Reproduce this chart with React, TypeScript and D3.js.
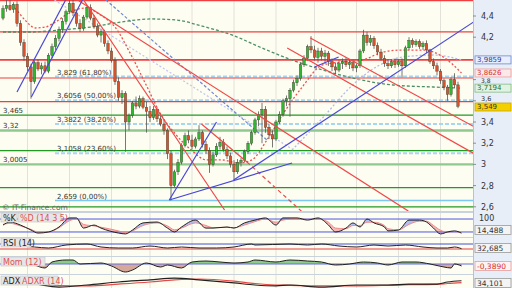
import React from "react";
import * as d3 from "d3";

const W = 512;
const H = 288;
const PR = 473;

// OHLC candles [open, high, low, close]
const candles: [number, number, number, number][] = [
  [4.38,4.50,4.36,4.47],[4.47,4.55,4.44,4.50],[4.50,4.55,4.45,4.46],[4.46,4.53,4.43,4.51],[4.51,4.54,4.30,4.33],
  [4.33,4.36,4.12,4.15],[4.15,4.18,3.98,4.02],[4.02,4.05,3.88,3.92],[3.92,3.95,3.62,3.78],[3.78,3.98,3.76,3.96],
  [3.96,3.99,3.88,3.90],[3.90,3.96,3.85,3.93],[3.93,3.97,3.86,3.88],[3.88,4.05,3.86,4.03],[4.03,4.14,4.00,4.11],
  [4.11,4.22,4.08,4.19],[4.19,4.30,4.16,4.27],[4.27,4.38,4.24,4.35],[4.35,4.46,4.32,4.44],[4.44,4.55,4.42,4.52],
  [4.52,4.55,4.40,4.43],[4.43,4.46,4.30,4.33],[4.33,4.37,4.25,4.28],[4.28,4.41,4.26,4.39],[4.39,4.50,4.37,4.48],
  [4.48,4.51,4.36,4.38],[4.38,4.41,4.28,4.30],[4.30,4.33,4.20,4.22],[4.22,4.28,4.15,4.25],[4.25,4.27,4.11,4.14],
  [4.14,4.17,4.04,4.07],[4.07,4.10,3.96,3.98],[3.98,4.01,3.75,3.78],[3.78,3.82,3.60,3.63],[3.63,3.70,3.57,3.67],
  [3.67,3.69,3.12,3.40],[3.40,3.48,3.32,3.46],[3.46,3.60,3.44,3.58],[3.58,3.64,3.52,3.55],[3.55,3.65,3.53,3.62],
  [3.62,3.64,3.52,3.54],[3.54,3.59,3.30,3.50],[3.50,3.55,3.40,3.44],[3.44,3.55,3.42,3.52],[3.52,3.54,3.40,3.43],
  [3.43,3.46,3.36,3.38],[3.38,3.42,3.28,3.32],[3.32,3.34,3.05,3.10],[3.10,3.13,2.66,2.80],[2.80,2.95,2.78,2.93],
  [2.93,3.05,2.90,3.02],[3.02,3.20,3.00,3.18],[3.18,3.30,3.16,3.27],[3.27,3.32,3.20,3.23],[3.23,3.28,3.14,3.17],
  [3.17,3.26,3.15,3.24],[3.24,3.37,3.22,3.30],[3.30,3.32,3.16,3.19],[3.19,3.22,3.10,3.13],[3.13,3.16,2.92,3.00],
  [3.00,3.12,2.98,3.09],[3.09,3.20,3.07,3.17],[3.17,3.26,3.14,3.21],[3.21,3.24,3.12,3.14],[3.14,3.17,3.05,3.08],
  [3.08,3.11,2.97,3.00],[3.00,3.04,2.85,2.93],[2.93,3.05,2.91,3.02],[3.02,3.06,2.98,3.04],[3.04,3.14,3.02,3.12],
  [3.12,3.22,3.10,3.20],[3.20,3.32,3.18,3.30],[3.30,3.44,3.28,3.42],[3.42,3.50,3.36,3.47],[3.47,3.58,3.20,3.52],
  [3.52,3.55,3.30,3.35],[3.35,3.38,3.24,3.28],[3.28,3.32,3.16,3.24],[3.24,3.42,3.22,3.40],[3.40,3.50,3.38,3.47],
  [3.47,3.62,3.45,3.60],[3.60,3.65,3.55,3.62],[3.62,3.72,3.45,3.70],[3.70,3.80,3.68,3.77],[3.77,3.84,3.74,3.81],
  [3.81,3.96,3.79,3.94],[3.94,4.03,3.92,4.00],[4.00,4.13,3.98,4.11],[4.11,4.21,4.05,4.08],[4.08,4.12,3.98,4.01],
  [4.01,4.10,3.96,4.07],[4.07,4.10,3.98,4.02],[4.02,4.08,3.95,4.05],[4.05,4.07,3.93,3.97],[3.97,4.00,3.88,3.92],
  [3.92,3.96,3.85,3.89],[3.89,3.98,3.87,3.95],[3.95,4.00,3.90,3.97],[3.97,4.01,3.92,3.94],[3.94,3.99,3.90,3.96],
  [3.96,3.98,3.88,3.91],[3.91,3.95,3.87,3.93],[3.93,4.09,3.91,4.07],[4.07,4.27,4.05,4.22],[4.22,4.25,4.12,4.15],
  [4.15,4.22,4.12,4.19],[4.19,4.21,4.09,4.12],[4.12,4.15,4.03,4.06],[4.06,4.09,3.98,4.00],[4.00,4.03,3.92,3.95],
  [3.95,3.99,3.90,3.93],[3.93,3.99,3.91,3.97],[3.97,4.00,3.91,3.94],[3.94,3.99,3.92,3.97],[3.97,4.00,3.82,3.93],
  [3.93,4.12,3.91,4.10],[4.10,4.20,4.08,4.17],[4.17,4.19,4.10,4.13],[4.13,4.18,4.11,4.16],[4.16,4.18,4.09,4.11],
  [4.11,4.16,4.08,4.14],[4.14,4.17,4.05,4.08],[4.08,4.09,3.95,3.97],[3.97,4.00,3.90,3.93],[3.93,3.96,3.84,3.88],
  [3.88,3.90,3.76,3.79],[3.79,3.81,3.70,3.73],[3.73,3.75,3.60,3.66],[3.66,3.82,3.64,3.80],[3.80,3.86,3.72,3.75],
  [3.75,3.78,3.53,3.549],
];

// visible price-axis ticks (the "4" tick is hidden behind the 3,9859 marker in the reference)
const priceTicks = [4.4, 4.2, 3.8, 3.6, 3.4, 3.2, 3.0, 2.8, 2.6];
const priceTickLabels = ["4,4", "4,2", "3,8", "3,6", "3,4", "3,2", "3", "2,8", "2,6"];
const gridIdx = [7, 19, 31, 42, 54, 66, 78, 89, 101, 113, 125];

const redLevels = [4.545, 4.25, 3.9859, 3.815, 3.592];
const greenLevels = [3.465, 3.13, 2.78, 2.6];
const greenThickLevels = [3.32, 3.0005];
const fiboLevels = [3.829, 3.6056, 3.3822, 3.1058];
const fiboLabels = ["3,829 (61,80%)", "3,6056 (50,00%)", "3,3822 (38,20%)", "3,1058 (23,60%)"];
const fiboBase = 2.659;
const fiboBaseLabel = "2,659 (0,00%)";
const leftLevels = [3.465, 3.32, 3.0005];
const leftLevelLabels = ["3,465", "3,32", "3,0005"];

// trendlines [idx0, p0, idx1, p1]
const blueLines: number[][] = [
  [4.0, 3.683, 17.9, 4.551],
  [8.1, 3.636, 22.7, 4.551],
  [47.5, 2.664, 61.0, 3.4],
  [47.5, 2.664, 82.6, 3.013],
  [65.9, 2.853, 135.3, 4.362],
  [89.0, 3.919, 95.9, 4.013],
];
const redLines: number[][] = [
  [23.0, 4.551, 63.3, 2.57],
  [21.3, 4.551, 115.8, 2.56],
  [87.8, 4.192, 135.3, 3.343],
  [81.2, 4.098, 135.3, 3.089],
  [56.7, 3.381, 69.7, 3.023],
];
const redDashedLines: number[][] = [[69.7, 3.023, 85.5, 2.551]];
const blueDashedLines: number[][] = [[29.4, 4.551, 75.4, 3.23]];
const lavenderLines: number[][] = [[14.7, 4.551, 82.6, 3.145]];

// moving averages [idx, price]
const maGreen: [number, number][] = [
  [0, 4.249], [7.8, 4.249], [16.4, 4.268], [25.1, 4.296], [33.7, 4.343], [42.3, 4.372], [49.5, 4.362],
  [56.7, 4.306], [65.4, 4.221], [74, 4.098], [82.6, 3.985], [91.3, 3.891], [99.9, 3.815], [111.4, 3.749],
  [122.9, 3.73], [131, 3.7194],
];
const maRed: [number, number][] = [
  [3.5, 4.475], [6.3, 4.362], [9.2, 4.287], [12.1, 4.296], [15, 4.343], [19.3, 4.438], [23.6, 4.475],
  [27.9, 4.409], [32.2, 4.287], [36.6, 4.032], [40.9, 3.749], [45.2, 3.466], [49.5, 3.277], [53.8, 3.136],
  [58.2, 3.042], [62.5, 3.042], [67.4, 3.013], [71.1, 3.042], [75.4, 3.23], [79.8, 3.466], [85.5, 3.73],
  [91.3, 3.938], [97, 3.966], [102.8, 3.985], [108.5, 4.06], [114.3, 4.079], [120.1, 4.079], [125.8, 4.013],
  [131, 3.8626],
];
const maBlue: [number, number][] = [
  [82.6, 3.136], [91.3, 3.438], [99.9, 3.749], [107.1, 3.928], [114.3, 4.013], [122.9, 4.032], [131, 3.9859],
];

// Stochastic
const stochIdx = [0,2,5,8,10,13,16,19,21,23,26,28,33,35,37,40,44,47,49,51,55,58,60,64,66,69,72,75,78,80,84,87,90,93,95,98,100,102,104,106,109,110,113,116,119,121,123,125,127,129,131];
const stochK = [52,66,52,29,15,20,43,85,85,38,52,38,15,11,29,62,66,38,20,43,75,38,38,43,38,62,75,85,52,85,85,75,85,52,20,38,62,43,80,62,43,25,29,75,75,66,38,11,20,25,14.5];
const stochD = [55,60,48,32,20,20,40,72,80,55,48,42,25,16,25,50,62,48,30,38,62,50,40,42,40,52,68,80,65,75,82,78,80,65,38,35,50,50,65,65,50,35,30,55,70,70,50,28,20,22,18];

// RSI
const rsiIdx = [0,9,13,18,24,28,33,37,42,47,51,56,61,66,71,72,82,87,91,96,101,106,110,115,120,124,127,129,131];
const rsiVals = [62,46,38,62,70,46,38,38,54,38,46,38,38,46,70,62,70,62,70,54,46,62,54,62,46,38,38,46,32.7];

// Momentum
const momIdx = [0,5,9,12,14,18,20,22,28,31,35,37,41,45,47,51,54,58,62,66,70,72,78,82,87,91,95,99,103,107,110,114,118,122,126,128,129,131];
const momVals = [1.2,0.8,-0.2,-0.8,0.4,0.8,0.8,0,0.2,-0.4,-1.6,-1.2,0.2,-0.6,-0.2,-0.8,0.4,0.6,0.4,0.2,0.4,0.8,0.4,0.8,0.6,0.4,-0.2,0,0.4,0.2,-0.2,0.4,0.4,0,-0.6,-0.8,0,-0.39];

// ADX
const adxIdx = [0,8,16,24,33,42,49,56,66,72,78,82,91,101,110,116,124,127,131];
const adxVals = [30,25,13,20,30,37,43,37,27,20,17,20,13,20,20,23,23,30,34.1];
const adxrVals = [30,27,18,17,23,30,37,40,33,25,20,19,17,17,19,21,22,25,28];

const FONT = "DejaVu Sans, Verdana, sans-serif";

export default function App() {
  const n = candles.length;
  const x = d3.scaleLinear().domain([0, n - 1]).range([3, 458]);
  const y = d3.scaleLinear().domain([2.6, 4.4]).range([206.8, 16]);
  const bw = 2.4;

  const curve = d3.line<[number, number]>().x((d) => x(d[0])).y((d) => y(d[1])).curve(d3.curveMonotoneX);

  const seg = (l: number[], i: number, color: string, w: number, dash?: string) => (
    <line key={i} x1={x(l[0])} y1={y(l[1])} x2={x(l[2])} y2={y(l[3])}
      stroke={color} strokeWidth={w} strokeDasharray={dash} />
  );

  const yS = d3.scaleLinear().domain([0, 100]).range([236.3, 214.7]);
  const yR = d3.scaleLinear().domain([0, 100]).range([252.75, 240.25]);
  const yM = d3.scaleLinear().domain([-2, 2]).range([274, 254]);
  const yA = d3.scaleLinear().domain([10, 50]).range([288, 276]);

  const kPts = stochIdx.map((d, i) => [d, stochK[i]] as [number, number]);
  const dPts = stochIdx.map((d, i) => [d, stochD[i]] as [number, number]);
  const lS = d3.line<[number, number]>().x((d) => x(d[0])).y((d) => yS(d[1])).curve(d3.curveMonotoneX);
  const areaKD = d3.area<number>().x((d) => x(stochIdx[d])).y0((d) => yS(stochK[d])).y1((d) => yS(stochD[d])).curve(d3.curveMonotoneX);
  const aboveK = d3.area<number>().x((d) => x(stochIdx[d])).y0((d) => yS(stochK[d])).y1(200).curve(d3.curveMonotoneX);
  const belowK = d3.area<number>().x((d) => x(stochIdx[d])).y0((d) => yS(stochK[d])).y1(245).curve(d3.curveMonotoneX);
  const sIdx = stochIdx.map((_, i) => i);

  const lR = d3.line<number>().x((d, i) => x(rsiIdx[i])).y((d) => yR(d)).curve(d3.curveMonotoneX);
  const lM = d3.line<number>().x((d, i) => x(momIdx[i])).y((d) => yM(d)).curve(d3.curveMonotoneX);
  const aM = d3.area<number>().x((d, i) => x(momIdx[i])).y0(yM(0)).y1((d) => yM(d)).curve(d3.curveMonotoneX);
  const lA = d3.line<number>().x((d, i) => x(adxIdx[i])).y((d) => yA(d)).curve(d3.curveMonotoneX);

  const panels = [
    [213, 237],
    [238, 256],
    [257, 274],
    [275, 288],
  ];

  // price marker (8px tall)
  const pbox = (cy: number, text: string, fill: string, stroke: string, color: string, key: string) => (
    <g key={key}>
      <rect x={475} y={cy - 4} width={36} height={8} fill={fill} stroke={stroke} strokeWidth={0.8} />
      <text x={477} y={cy + 2.3} fontSize={7} fill={color}>{text}</text>
    </g>
  );

  const box = (cy: number, text: string, fill: string, stroke: string, color: string, key: string) => (
    <g key={key}>
      <rect x={475} y={cy - 4.5} width={36} height={9} fill={fill} stroke={stroke} strokeWidth={0.8} />
      <text x={477} y={cy + 3} fontSize={7.5} fill={color}>{text}</text>
    </g>
  );

  const labelBox = (x0: number, yTop: number, w: number, text: string, color: string, key: string) => (
    <g key={key}>
      <rect x={x0} y={yTop} width={w} height={9} fill="#e6e6e6" stroke="#c4c4c4" strokeWidth={0.6} />
      <text x={x0 + 2} y={yTop + 7.5} fontSize={8} fill={color}>{text}</text>
    </g>
  );

  const tickFont = (p: number) => (p === 3.8 ? 6 : p === 3.6 ? 6.5 : 8);
  const tickDy = (p: number) => (p === 3.8 ? 2.9 : p === 3.6 ? 0.3 : 3);

  return (
    <svg width={W} height={H} style={{ position: "absolute", left: 0, top: 0, display: "block" }} fontFamily={FONT}>
      <defs>
        <clipPath id="mainClip"><rect x={0} y={0} width={PR} height={211} /></clipPath>
        <clipPath id="s1"><rect x={0} y={213} width={PR} height={24} /></clipPath>
        <clipPath id="s2"><rect x={0} y={238} width={PR} height={18} /></clipPath>
        <clipPath id="s3"><rect x={0} y={257} width={PR} height={17} /></clipPath>
        <clipPath id="s4"><rect x={0} y={275} width={PR} height={13} /></clipPath>
        <clipPath id="aboveK"><path d={aboveK(sIdx) || ""} /></clipPath>
        <clipPath id="belowK"><path d={belowK(sIdx) || ""} /></clipPath>
        <clipPath id="momUp"><rect x={0} y={257} width={PR} height={yM(0) - 257} /></clipPath>
        <clipPath id="momDn"><rect x={0} y={yM(0)} width={PR} height={274 - yM(0)} /></clipPath>
      </defs>

      <rect x={0} y={0} width={W} height={H} fill="#d3dce6" />
      <rect x={0} y={0} width={PR} height={211} fill="#fdfdf1" />
      {panels.map((p, i) => (
        <rect key={i} x={0} y={p[0]} width={PR} height={p[1] - p[0]} fill="#fdfdf1" />
      ))}
      <rect x={PR} y={0} width={W - PR} height={H} fill="#e7eef7" />
      <line x1={PR + 0.5} y1={0} x2={PR + 0.5} y2={H} stroke="#b6c2ce" strokeWidth={1} />

      {/* main panel */}
      <g clipPath="url(#mainClip)">
        {gridIdx.map((g) => (
          <line key={g} x1={x(g)} y1={0} x2={x(g)} y2={211} stroke="#e2e2da" strokeWidth={1} />
        ))}
        {fiboLevels.map((p, i) => (
          <line key={"f" + i} x1={55} y1={y(p)} x2={PR} y2={y(p)} stroke="#a8d6f2" strokeWidth={2} strokeDasharray="4,2" />
        ))}
        <line x1={55} y1={y(fiboBase)} x2={PR} y2={y(fiboBase)} stroke="#7cc8f0" strokeWidth={1.5} />
        {greenThickLevels.map((p, i) => (
          <line key={"gt" + i} x1={0} y1={y(p)} x2={PR} y2={y(p)} stroke="#8fc98f" strokeWidth={2.4} />
        ))}
        {greenLevels.map((p, i) => (
          <line key={"g" + i} x1={0} y1={y(p)} x2={PR} y2={y(p)} stroke="#229922" strokeWidth={1.2} />
        ))}
        {redLevels.map((p, i) => (
          <line key={"r" + i} x1={0} y1={y(p)} x2={PR} y2={y(p)} stroke="#ee4040" strokeWidth={i === 2 ? 1.8 : 1.2} />
        ))}

        {lavenderLines.map((l, i) => seg(l, i, "#c4c4f0", 1.2, "2,2"))}
        {blueDashedLines.map((l, i) => seg(l, i, "#6f86d0", 1.2, "3,2"))}
        <path d={curve(maGreen) || ""} fill="none" stroke="#4e8f66" strokeWidth={1.3} strokeDasharray="3,2" />
        <path d={curve(maBlue) || ""} fill="none" stroke="#b4b8ec" strokeWidth={1.3} strokeDasharray="2,2" />
        <path d={curve(maRed) || ""} fill="none" stroke="#ee5050" strokeWidth={1.3} strokeDasharray="2,2" />

        {candles.map((c, i) => {
          const [o, h, l, cl] = c;
          const up = cl >= o;
          const top = y(Math.max(o, cl));
          const bot = y(Math.min(o, cl));
          return (
            <g key={i}>
              <line x1={x(i)} y1={y(h)} x2={x(i)} y2={y(l)} stroke="#555" strokeWidth={0.8} />
              <rect x={x(i) - bw / 2} y={top} width={bw} height={Math.max(1, bot - top)}
                fill={up ? "#2fb52f" : "#d8502c"} stroke="#3a3a2a" strokeWidth={0.4} />
            </g>
          );
        })}

        {redLines.map((l, i) => seg(l, i, "#f04848", 1.2))}
        {redDashedLines.map((l, i) => seg(l, i, "#f04848", 1.2, "4,3"))}
        {blueLines.map((l, i) => seg(l, i, "#4848d8", 1.2))}

        {fiboLevels.map((p, i) => (
          <text key={"ft" + i} x={57} y={y(p) - 2} fontSize={7} fill="#333">{fiboLabels[i]}</text>
        ))}
        <text x={57} y={y(fiboBase) - 2} fontSize={7} fill="#333">{fiboBaseLabel}</text>
        {leftLevels.map((p, i) => (
          <text key={"lt" + i} x={3} y={y(p) - 2} fontSize={7} fill="#333">{leftLevelLabels[i]}</text>
        ))}
        <text x={2} y={210} fontSize={7.5} fill="#666">© IT-Finance.com</text>
      </g>

      {/* price axis */}
      {priceTicks.map((p, i) => (
        <g key={"pt" + i}>
          <line x1={PR} y1={y(p)} x2={PR + 3} y2={y(p)} stroke="#777" strokeWidth={0.8} />
          <text x={481} y={y(p) + tickDy(p)} fontSize={tickFont(p)} fill="#333">{priceTickLabels[i]}</text>
        </g>
      ))}
      {pbox(y(3.9859), "3,9859", "#e6eeff", "#7088c8", "#2c3c90", "b1")}
      {pbox(y(3.8626), "3,8626", "#fbe8e8", "#e8a0a0", "#d83030", "b2")}
      {pbox(y(3.7194), "3,7194", "#e0f2e0", "#88bb88", "#1e6e1e", "b3")}
      {pbox(y(3.549) + 0.8, "3,549", "#f4d000", "#c8a800", "#333", "b4")}

      {[211, 237, 256, 274].map((s, i) => (
        <rect key={"sep" + i} x={0} y={s} width={PR} height={i === 0 ? 2 : 1} fill="#c9d3de" />
      ))}

      {/* stochastic */}
      <g clipPath="url(#s1)">
        {gridIdx.map((g) => (
          <line key={g} x1={x(g)} y1={213} x2={x(g)} y2={237} stroke="#e2e2da" strokeWidth={1} />
        ))}
        <path d={areaKD(sIdx) || ""} fill="#f0a0a0" opacity={0.75} clipPath="url(#aboveK)" />
        <path d={areaKD(sIdx) || ""} fill="#98a8f0" opacity={0.75} clipPath="url(#belowK)" />
        <line x1={0} y1={yS(80)} x2={PR} y2={yS(80)} stroke="#5058e0" strokeWidth={1} />
        <line x1={0} y1={yS(20)} x2={PR} y2={yS(20)} stroke="#5058e0" strokeWidth={1} />
        <path d={lS(dPts) || ""} fill="none" stroke="#f08a8a" strokeWidth={1} />
        <path d={lS(kPts) || ""} fill="none" stroke="#222" strokeWidth={1} />
      </g>
      {labelBox(1, 213, 16, "%K", "#222", "lk")}
      {labelBox(18, 213, 43, "%D (14 3 5)", "#e05050", "ld")}
      <text x={479} y={221} fontSize={8} fill="#333">100</text>
      {box(230, "14,488", "#f4f4f4", "#9a9a9a", "#333", "sb1")}

      {/* RSI */}
      <g clipPath="url(#s2)">
        {gridIdx.map((g) => (
          <line key={g} x1={x(g)} y1={238} x2={x(g)} y2={256} stroke="#e2e2da" strokeWidth={1} />
        ))}
        <line x1={0} y1={yR(70)} x2={PR} y2={yR(70)} stroke="#4050d8" strokeWidth={1} />
        <line x1={0} y1={yR(30)} x2={PR} y2={yR(30)} stroke="#e84040" strokeWidth={1} />
        <path d={lR(rsiVals) || ""} fill="none" stroke="#222" strokeWidth={1} />
      </g>
      {labelBox(1, 238, 30, "RSI (14)", "#222", "lr")}
      {box(248, "32,685", "#f4f4f4", "#9a9a9a", "#333", "sb2")}

      {/* Momentum */}
      <g clipPath="url(#s3)">
        {gridIdx.map((g) => (
          <line key={g} x1={x(g)} y1={257} x2={x(g)} y2={274} stroke="#e2e2da" strokeWidth={1} />
        ))}
        <path d={aM(momVals) || ""} fill="#8ccb8c" clipPath="url(#momUp)" />
        <path d={aM(momVals) || ""} fill="#d6a89a" clipPath="url(#momDn)" />
        <line x1={0} y1={yM(0)} x2={PR} y2={yM(0)} stroke="#6070e0" strokeWidth={1} />
        <path d={lM(momVals) || ""} fill="none" stroke="#222" strokeWidth={1} />
      </g>
      {labelBox(1, 257, 44, "Mom (12)", "#e05050", "lm")}
      {box(266, "-0,3890", "#fff2f2", "#e0a0a0", "#d83030", "sb3")}

      {/* ADX */}
      <g clipPath="url(#s4)">
        {gridIdx.map((g) => (
          <line key={g} x1={x(g)} y1={275} x2={x(g)} y2={288} stroke="#e2e2da" strokeWidth={1} />
        ))}
        <path d={lA(adxrVals) || ""} fill="none" stroke="#e84848" strokeWidth={1.2} />
        <path d={lA(adxVals) || ""} fill="none" stroke="#222" strokeWidth={1.2} />
      </g>
      {labelBox(1, 276, 18, "ADX", "#222", "la")}
      {labelBox(20, 276, 38, "ADXR (14)", "#e05050", "lax")}
      {box(283, "34,101", "#f4f4f4", "#9a9a9a", "#333", "sb4")}
    </svg>
  );
}
